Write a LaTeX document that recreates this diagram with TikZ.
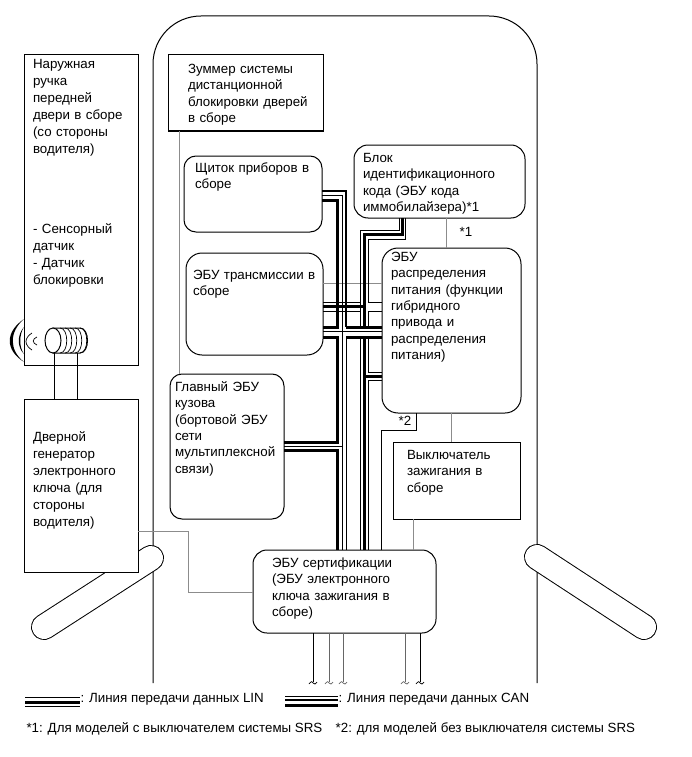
\documentclass[tikz,border=0pt]{standalone}
\usepackage{fontspec}
\setmainfont{Liberation Sans}

\begin{document}
\begin{tikzpicture}[x=1pt, y=-1pt, line width=1pt,
    sqbox/.style={draw, fill=white, anchor=north west, align=left, outer sep=0pt, text height=9pt,
      font=\fontsize{13.33}{16.3}\selectfont},
    wideline/.style={font=\fontsize{13.33}{17}\selectfont},
    rbox/.style={sqbox, rounded corners=#1},
    boxdim/.style n args={4}{text width=#1, inner xsep=#2, inner ysep=#3, text depth=#4},
    plain/.style={inner sep=0pt, font=\fontsize{13.33}{16}\selectfont},
    thinline/.style={line width=1pt},
    thickline/.style={line width=3pt},
    grayline/.style={line width=1pt, draw=black!45},
    handle/.style={double=white, double distance=24pt, line width=1pt, line cap=round}]
  \useasboundingbox (0,0) rectangle (691,757);

  \coordinate (BodyL) at (153,683);
  \coordinate (BodyR) at (537,683);
  \coordinate (HandL1) at (151,558);
  \coordinate (HandL2) at (44,627);
  \coordinate (HandR1) at (537,557);
  \coordinate (HandR2) at (644,627);

  \draw[rounded corners=48pt] (BodyL) -- (153,16) -- (537,16) -- (BodyR);
  \draw[handle] (HandL1) -- (HandL2);
  \draw[handle] (HandR1) -- (HandR2);

  \node[sqbox, wideline, boxdim={96}{9}{4.5}{292.5}] (Door) at (24,55)
    {Наружная\\ ручка\\ передней\\ двери в сборе\\ (со стороны\\ водителя)\\[63pt]
     - Сенсорный\\ датчик\\ - Датчик\\ блокировки};
  \node[sqbox, wideline, boxdim={96}{9}{33.5}{97}] (Keygen) at (24,399)
    {Дверной\\ генератор\\ электронного\\ ключа (для\\ стороны\\ водителя)};
  \node[sqbox, boxdim={115}{20}{9.5}{48}] (Zummer) at (168,55)
    {Зуммер системы\\ дистанционной\\ \mbox{блокировки дверей}\\ в сборе};
  \node[rbox=12pt, boxdim={116}{11}{7.5}{52}] (Panel) at (184,156)
    {Щиток приборов в\\ сборе};
  \node[rbox=16pt, boxdim={123}{7}{17.5}{58}] (Trans) at (186,253)
    {ЭБУ трансмиссии в\\ сборе};
  \node[rbox=12pt, boxdim={104}{5}{8.5}{119}] (Body) at (170,374)
    {Главный ЭБУ\\ кузова\\ (бортовой ЭБУ\\ сети\\ мультиплексной\\ связи)};
  \node[rbox=14pt, boxdim={153}{9}{8.5}{47}] (Immo) at (354,145)
    {Блок\\ идентификационного\\ кода (ЭБУ кода\\ иммобилайзера)*1};
  \node[rbox=16pt, boxdim={121}{9}{4.5}{147}] (Power) at (382,248)
    {ЭБУ\\ распределения\\ питания (функции\\ гибридного\\ привода и\\ распределения\\ питания)};
  \node[sqbox, boxdim={99}{14}{8.5}{51}] (Ignition) at (393,442)
    {Выключатель\\ зажигания в\\ сборе};
  \node[rbox=14pt, boxdim={145}{19}{8.5}{57}] (Cert) at (253,550)
    {ЭБУ сертификации\\ (ЭБУ электронного\\ ключа зажигания в\\ сборе)};

  \node[plain] (Star1) at (466,232) {*1};
  \node[plain] (Star2) at (405,421) {*2};

  \draw[grayline] (179,0 |- Zummer.south) -- (179,0 |- Body.north);
  \draw[grayline] (446,0 |- Immo.south) -- (446,0 |- Power.north);
  \draw[grayline] (Trans.east |- 0,283) -- (Power.west |- 0,283);
  \draw[grayline] (451,0 |- Power.south) -- (451,0 |- Ignition.north);
  \draw[grayline] (413,0 |- Ignition.south) -- (413,0 |- Cert.north);
  \draw[grayline] (Keygen.east |- 0,531) -- (188,531) -- (188,592) -- (Cert.west |- 0,592);
  \draw[thinline] (381,0 |- Cert.north) -- (381,430) -- (416,430) -- (416,0 |- Power.south);

  \draw[thickline] (Panel.east |- 0,200) -- (337,200) -- (337,327) -- (Trans.east |- 0,327);
  \draw[thickline] (Trans.east |- 0,337) -- (337,337) -- (337,442) -- (Body.east |- 0,442);
  \draw[thickline] (Body.east |- 0,450) -- (337,450) -- (337,0 |- Cert.north);
  \draw[thinline] (Panel.east |- 0,195) -- (342,195) -- (342,0 |- Cert.north);
  \draw[line width=1.5pt] (Panel.east |- 0,191) -- (346,191) -- (346,327);
  \draw[thinline] (346,337) -- (346,0 |- Cert.north);
  \draw[thinline] (Trans.east |- 0,331) -- (Power.west |- 0,331);
  \draw[thinline] (Body.east |- 0,446) -- (342,446);

  \draw[thinline] (399,0 |- Immo.south) -- (399,230) -- (360,230) -- (360,327);
  \draw[thinline] (360,337) -- (360,0 |- Cert.north);
  \draw[thickline] (402.5,0 |- Immo.south) -- (402.5,234) -- (364,234) -- (364,327);
  \draw[thickline] (364,337) -- (364,0 |- Cert.north);
  \draw[thinline] (405.5,0 |- Immo.south) -- (405.5,239) -- (368,239) -- (368,302) -- (Power.west |- 0,302);
  \draw[thinline] (Power.west |- 0,311) -- (368,311) -- (368,327);
  \draw[thinline] (368,337) -- (368,372) -- (Power.west |- 0,372);
  \draw[thinline] (Power.west |- 0,380) -- (368,380) -- (368,0 |- Cert.north);
  \draw[thickline] (364,376) -- (Power.west |- 0,376);
  \draw[thickline] (346,327) -- (Power.west |- 0,327);
  \draw[thickline] (346,337) -- (Power.west |- 0,337);
  \draw[thinline] (Trans.east |- 0,302) -- (360,302);
  \draw[thickline] (Trans.east |- 0,306) -- (364,306);
  \draw[thinline] (Trans.east |- 0,311) -- (360,311);

  \coordinate (CoilA) at (54,353);
  \coordinate (CoilB) at (77,353);
  \draw[fill=white] (53,328) -- (80,328) .. controls (90,328) and (90,353) .. (80,353) -- (53,353) -- cycle;
  \foreach \cx in {60,65,70,75,80}
    \draw[line width=.7pt] (\cx,328) .. controls (\cx+9,328) and (\cx+9,353) .. (\cx,353);
  \draw[fill=white] (53,340.5) ellipse (8 and 12.5);
  \draw (CoilA) -- (CoilA |- Keygen.north);
  \draw (CoilB) -- (CoilB |- Keygen.north);
  \fill (24,319) .. controls (5,332) and (5,350) .. (24,362) .. controls (9,350) and (9,332) .. cycle;
  \fill (24,327) .. controls (17,335) and (17,347) .. (24,354) .. controls (19,347) and (19,335) .. cycle;
  \draw[line width=.7pt] (32,333) .. controls (24,338) and (24,345) .. (32,350);
  \draw[line width=.7pt] (37,337) .. controls (32,339) and (32,343) .. (37,345);

  \foreach \wx/\wcol in {313/black, 329/black!60, 343/black!60, 405/black!60, 420/black}
  {
    \draw[draw=\wcol] (\wx,0 |- Cert.south) -- (\wx,682);
    \draw[draw=\wcol, line width=.7pt] (\wx-4,684) .. controls (\wx-2,681) and (\wx,681) .. (\wx,683) .. controls (\wx+1,685) and (\wx+3,684) .. (\wx+4,682);
  }

  \node[plain, anchor=west] (LegLin) at (80,699) {: Линия передачи данных LIN};
  \node[plain, anchor=west] (LegCan) at (338,699) {: Линия передачи данных CAN};
  \node[plain, anchor=west] (Notes) at (26,729) {*1: Для моделей с выключателем системы SRS\quad *2: для моделей без выключателя системы SRS};
  \coordinate (LinStart) at (25,0);
  \coordinate (CanStart) at (285,0);
  \draw[thinline] (LinStart |- 0,697) -- (LegLin.west |- 0,697);
  \draw[thickline] (LinStart |- 0,702) -- (LegLin.west |- 0,702);
  \draw[thinline] (LinStart |- 0,706) -- (LegLin.west |- 0,706);
  \draw[thinline] (CanStart |- 0,696) -- (LegCan.west |- 0,696);
  \draw[line width=1.5pt] (CanStart |- 0,700) -- (LegCan.west |- 0,700);
  \draw[thickline] (CanStart |- 0,705) -- (LegCan.west |- 0,705);
\end{tikzpicture}
\end{document}
